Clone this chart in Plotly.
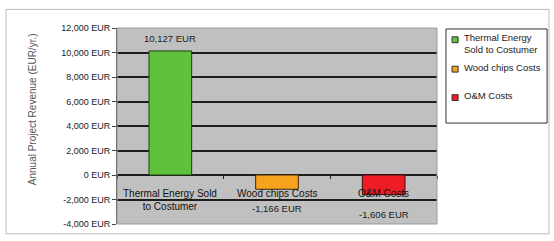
import plotly.graph_objects as go

categories = ["Thermal Energy Sold<br>to Costumer", "Wood chips Costs", "O&M Costs"]
legend_names = ["Thermal Energy<br>Sold to Costumer", "Wood chips Costs", "O&M Costs"]
values = [10127, -1166, -1606]
value_labels = ["10,127 EUR", "-1,166 EUR", "-1,606 EUR"]
colors = ["#5ec23c", "#f7a21c", "#ee1c24"]
outline_colors = ["#1f3d14", "#3a2a10", "#3a1010"]
tick_vals = [12000, 10000, 8000, 6000, 4000, 2000, 0, -2000, -4000]
tick_text = ["12,000 EUR", "10,000 EUR", "8,000 EUR", "6,000 EUR", "4,000 EUR",
             "2,000 EUR", "0 EUR", "-2,000 EUR", "-4,000 EUR"]
y_title = "Annual Project Revenue (EUR/yr.)"

FONT = "Liberation Sans, Arial, sans-serif"
TXT = "#1a1a1a"

fig = go.Figure()
for i in range(len(categories)):
    fig.add_trace(go.Bar(
        x=[categories[i]], y=[values[i]], name=legend_names[i],
        marker=dict(color=colors[i], line=dict(color=outline_colors[i], width=1)),
        width=0.4, showlegend=False,
    ))

annotations = []
for i in range(len(categories)):
    v = values[i]
    annotations.append(dict(
        x=categories[i], y=v, xref="x", yref="y", text=value_labels[i], showarrow=False,
        yanchor="bottom" if v >= 0 else "top", yshift=5 if v >= 0 else -12,
        font=dict(size=9.5, color=TXT, family=FONT)))
    annotations.append(dict(
        x=categories[i], y=0, xref="x", yref="y", text=categories[i], showarrow=False,
        yanchor="top", yshift=-11, align="center",
        font=dict(size=10, color="#111111", family=FONT)))

# y-axis title
annotations.append(dict(x=-0.266, y=0.585, xref="paper", yref="paper", text=y_title,
                        showarrow=False, textangle=-90, xanchor="center", yanchor="middle",
                        font=dict(size=10, color="#555555", family=FONT)))

# manual legend (box drawn in paper coordinates)
leg_x0, leg_x1, leg_y0, leg_y1 = 1.028, 1.344, 0.515, 0.995
marker_y = [0.94, 0.79, 0.645]
text_y = [0.92, 0.80, 0.655]
shapes = [
    dict(type="rect", xref="paper", yref="paper", x0=-0.347, x1=1.35, y0=-0.05, y1=1.095,
         line=dict(color="#bbbbbb", width=1), fillcolor="rgba(0,0,0,0)", layer="below"),
    dict(type="rect", xref="paper", yref="paper", x0=0, x1=1, y0=0, y1=1,
         line=dict(color="#9a9a9a", width=1), fillcolor="rgba(0,0,0,0)"),
    dict(type="rect", xref="paper", yref="paper", x0=leg_x0, x1=leg_x1, y0=leg_y0, y1=leg_y1,
         line=dict(color="#333333", width=1), fillcolor="white"),
]
for i in range(len(categories)):
    shapes.append(dict(type="rect", xref="paper", yref="paper",
                       x0=1.047, x1=1.066, y0=marker_y[i] - 0.015, y1=marker_y[i] + 0.015,
                       line=dict(color="#333333", width=1), fillcolor=colors[i]))
    annotations.append(dict(x=1.078, y=text_y[i], xref="paper", yref="paper",
                            text=legend_names[i], showarrow=False, xanchor="left",
                            yanchor="middle", align="left",
                            font=dict(size=9.5, color=TXT, family=FONT)))

fig.update_layout(
    width=554, height=241,
    margin=dict(l=117, r=117, t=28, b=13),
    paper_bgcolor="white", plot_bgcolor="#c0c0c0",
    font=dict(family=FONT, size=9, color=TXT),
    showlegend=False,
    bargap=0.6,
    xaxis=dict(type="category", categoryorder="array", categoryarray=categories,
               anchor="free", position=0.25, showline=False, ticks="outside",
               tickson="boundaries", ticklen=3, tickcolor="#222222",
               showticklabels=False, showgrid=False, zeroline=False),
    yaxis=dict(range=[-4000, 12000], tickvals=tick_vals, ticktext=tick_text,
               showgrid=True, gridcolor="#1e1e1e", gridwidth=1.5,
               zeroline=True, zerolinecolor="#1e1e1e", zerolinewidth=1.5,
               showline=True, linecolor="#444444", linewidth=1,
               ticks="outside", ticklen=4, tickcolor="#444444",
               tickfont=dict(size=9, color=TXT)),
    shapes=shapes,
    annotations=annotations,
)

fig.write_html("out.html", config={"displayModeBar": False},
               post_script="document.body.style.margin='0';document.body.style.overflow='hidden';")
